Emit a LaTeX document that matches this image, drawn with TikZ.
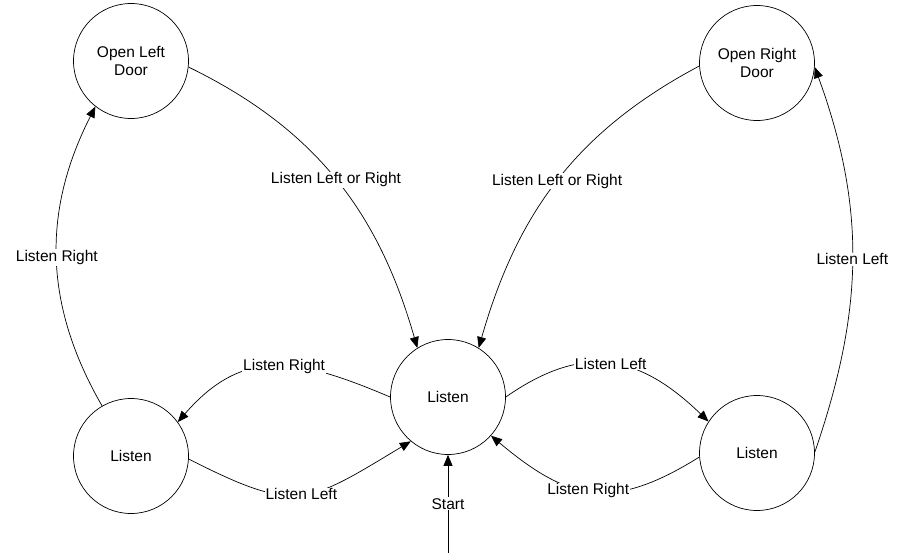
\documentclass[tikz,border=0pt]{standalone}
\usepackage{fontspec}
\setmainfont{Liberation Sans}
\usetikzlibrary{arrows.meta}
\begin{document}
\begin{tikzpicture}[x=1pt,y=-1pt,
  state/.style={draw,circle,minimum size=115pt,inner sep=0pt,align=center,line width=0.7pt,
    font=\fontsize{15.5}{18}\selectfont},
  lbl/.style={fill=white,inner sep=1pt,font=\fontsize{15.5}{17.5}\selectfont},
  edge/.style={line width=0.7pt,-{Triangle[length=11pt,width=9pt]}}]
\useasboundingbox (0,0) rectangle (899,555);
\node[state] (old) at (131,61) {Open Left\\Door};
\node[state] (ord) at (757,63) {Open Right\\Door};
\node[state] (c) at (448,397) {Listen};
\node[state] (l) at (131,456) {Listen};
\node[state] (r) at (757,453) {Listen};
\coordinate (s) at (448,553);
\draw[edge] (old.-6) to[out=-26,in=106] node[lbl,pos=0.5] {Listen Left or Right} (c.122);
\draw[edge] (ord.183) to[out=208,in=74] node[lbl,pos=0.5] {Listen Left or Right} (c.58);
\draw[edge] (l.120) to[out=120,in=243] node[lbl,pos=0.5] {Listen Right} (old.232);
\draw[edge] (r.1) to[out=71,in=-70] node[lbl,pos=0.5] {Listen Left} (ord.-4);
\draw[edge] (c.180) to[out=157,in=49,looseness=1.2] node[lbl,pos=0.45] {Listen Right} (l.36);
\draw[edge] (l.-3) to[out=-27,in=211,looseness=1.4] node[lbl,pos=0.5] {Listen Left} (c.230);
\draw[edge] (c.0) to[out=35,in=136,looseness=1.2] node[lbl,pos=0.5] {Listen Left} (r.147);
\draw[edge] (r.184) to[out=212,in=-40,looseness=1.25] node[lbl,pos=0.52] {Listen Right} (c.-42);
\draw[edge] (s) -- node[lbl,pos=0.5] {Start} (c.south);
\end{tikzpicture}
\end{document}
